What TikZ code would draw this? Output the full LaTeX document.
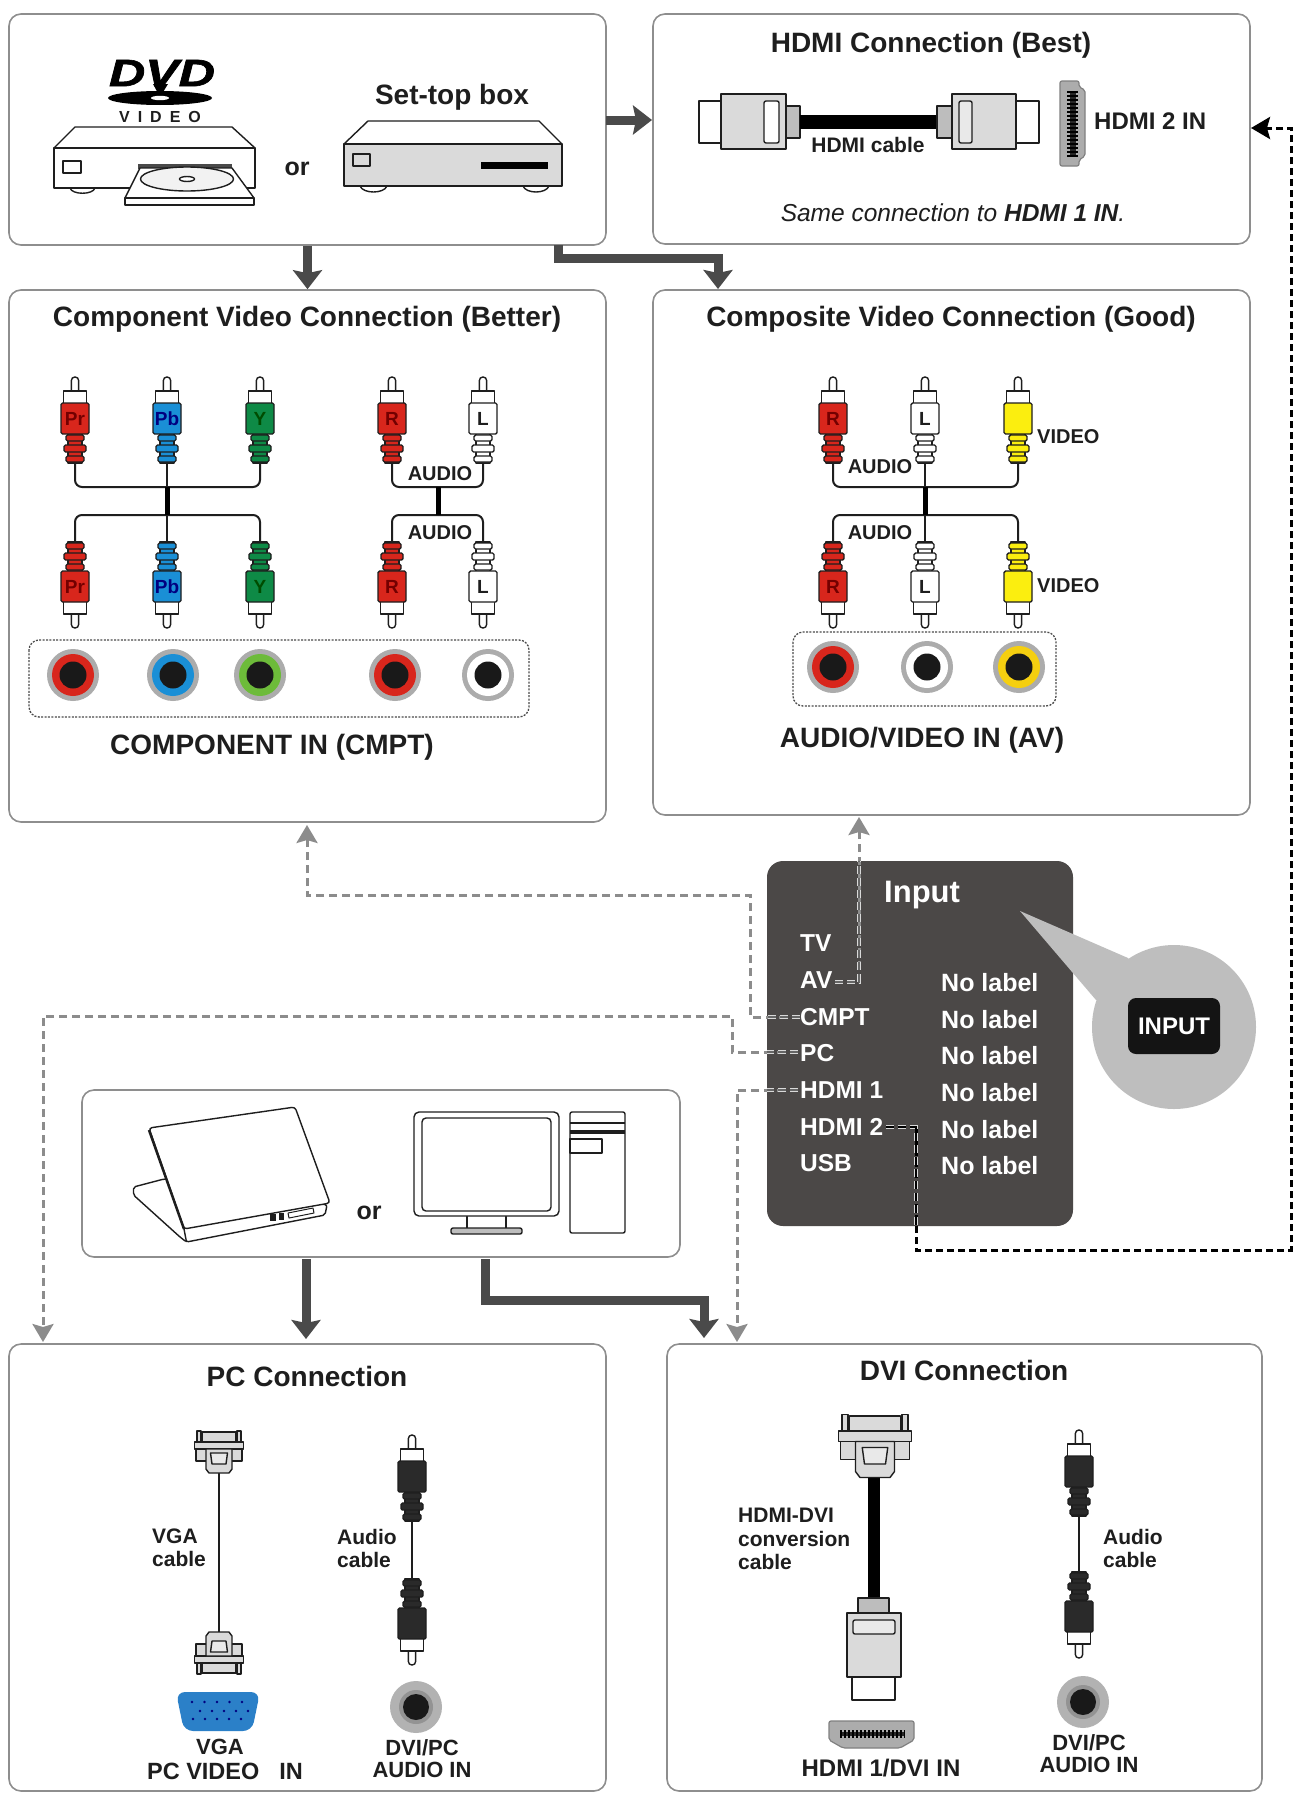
\documentclass[tikz,border=0pt]{standalone}
\usepackage{fontspec}
\usepackage{graphicx}
\setmainfont{Liberation Sans}
\newfontfamily\spacedfont[LetterSpace=50]{Liberation Sans}
\newfontfamily\logofont[BoldItalicFeatures={FakeBold=1.6}]{Liberation Sans}
\usetikzlibrary{arrows.meta}
\definecolor{ink}{HTML}{1E1E1E}
\definecolor{frameline}{HTML}{8E8E8E}
\definecolor{arrowdark}{HTML}{4A4A4A}
\definecolor{panelgrey}{HTML}{4B4847}
\definecolor{calloutgrey}{HTML}{BEBEBE}
\definecolor{dashgrey}{HTML}{8C8C8C}
\definecolor{plugred}{HTML}{D8261C}
\definecolor{plugblue}{HTML}{1A8FD6}
\definecolor{pluggreen}{HTML}{0E8A46}
\definecolor{plugyellow}{HTML}{FBEE0F}
\definecolor{plugblack}{HTML}{2A2A2A}
\definecolor{jackgreen}{HTML}{6DBB3A}
\definecolor{jackyellow}{HTML}{F5CF10}
\definecolor{bodygrey}{HTML}{DADADA}
\definecolor{neckgrey}{HTML}{BDBDBD}
\definecolor{vgablue}{HTML}{2B80C8}
\tikzset{
  x=1pt,y=-1pt,
  panel/.style={draw=frameline,line width=1.6pt,rounded corners=12pt,inner sep=0pt,fill=white},
  lab/.style 2 args={font=\bfseries\fontsize{#1}{#2}\selectfont,inner sep=0pt,text=ink,align=center},
  whitelab/.style 2 args={font=\bfseries\fontsize{#1}{#2}\selectfont,inner sep=0pt,text=white,align=left},
  outline/.style={draw=ink,line width=1.4pt,line join=round},
  cablewire/.style={draw=ink,line width=2pt,rounded corners=7pt},
  flowsolid/.style={draw=arrowdark,line width=9pt,-{Stealth[length=19pt,width=29pt,inset=3pt]}},
  flowgrey/.style={draw=dashgrey,line width=3pt,dash pattern=on 8pt off 5pt,-{Stealth[length=18pt,width=21pt,inset=3pt,fill=dashgrey]}},
  flowblack/.style={draw=black,line width=3pt,dash pattern=on 7pt off 4pt,-{Stealth[length=19pt,width=22pt,inset=3pt,fill=black]}},
  paneldashout/.style={draw=white!85!black,line width=4.6pt,dash pattern=on 8pt off 4pt},
  paneldashin/.style={draw=black!60,line width=1.8pt,dash pattern=on 8pt off 4pt},
  dottedframe/.style={draw=arrowdark,line width=1.3pt,dash pattern=on 2pt off 1.4pt,rounded corners=10pt},
  pinrow/.style={draw=black,line width=11pt,dash pattern=on 2pt off 2pt}
}
% RCA plug: x of the axis, y of the tip, direction (1 = tip on top), body colour, letter colour, letter
\newcommand{\rcaplug}[6]{%
  \begin{scope}[shift={(#1,#2)},yscale=#3]
    \draw[outline,fill=white,rounded corners=3.4pt] (-3.6,15) -- (-3.6,0) -- (3.6,0) -- (3.6,15);
    \draw[outline,fill=white] (-11.5,14) rectangle (11.5,27);
    \draw[outline,fill=#4] (-7,56) rectangle (7,86);
    \draw[outline,fill=#4,rounded corners=1.5pt] (-14,26) rectangle (14,57);
    \draw[outline,fill=#4,rounded corners=1.5pt] (-9,58) rectangle (9,64);
    \draw[outline,fill=#4,rounded corners=1.5pt] (-11,68) rectangle (11,75);
    \draw[outline,fill=#4,rounded corners=1.5pt] (-9,79) rectangle (9,85);
    \node[lab={19}{20},text=#5] at (0,41.5) {#6};
  \end{scope}}
% Round socket: centre, ring colour
\newcommand{\rcajack}[3]{%
  \fill[gray!65] (#1,#2) circle (26);
  \fill[#3] (#1,#2) circle (21);
  \fill[black!90] (#1,#2) circle (13.5);}
\newcommand{\audiojack}[2]{%
  \fill[gray!60] (#1,#2) circle (26);
  \fill[gray!85] (#1,#2) circle (17);
  \fill[black!90] (#1,#2) circle (13);}
% D-sub style plug: axis x, top y, scale, direction
\newcommand{\dsubplug}[4]{%
  \begin{scope}[shift={(#1,#2)},xscale=#3,yscale=#3*#4]
    \draw[outline,fill=bodygrey] (-22,-1) rectangle (-18,11);
    \draw[outline,fill=bodygrey] (18,-1) rectangle (22,11);
    \draw[outline,fill=bodygrey] (-17,0) rectangle (17,10);
    \draw[outline,fill=bodygrey] (-23,17) rectangle (23,29);
    \draw[outline,fill=bodygrey] (-24.5,10) rectangle (24.5,17);
    \draw[outline,fill=bodygrey] (-13,17) -- (13,17) -- (13,37) -- (10,41) -- (-10,41) -- (-13,37) -- cycle;
    \draw[outline,fill=bodygrey!60] (-8.5,21) -- (8.5,21) -- (7,32) -- (-7,32) -- cycle;
  \end{scope}}
\begin{document}
\begin{tikzpicture}
\useasboundingbox[fill=white] (0,0) rectangle (1298,1793);

% Frames
\node[panel,minimum width=597pt,minimum height=231pt] (src) at (307.5,129.5) {};
\node[panel,minimum width=597pt,minimum height=230pt] (hdmi) at (951.5,129) {};
\node[panel,minimum width=597pt,minimum height=532pt] (comp) at (307.5,556) {};
\node[panel,minimum width=597pt,minimum height=525pt] (cvbs) at (951.5,552.5) {};
\node[panel,minimum width=598pt,minimum height=167pt] (pcsrc) at (381,1173.5) {};
\node[panel,minimum width=597pt,minimum height=447pt] (pcbox) at (307.5,1567.5) {};
\node[panel,minimum width=595pt,minimum height=447pt] (dvibox) at (964.5,1567.5) {};
\node[draw=none,fill=panelgrey,rounded corners=16pt,inner sep=0pt,minimum width=306pt,minimum height=365pt] (inputpanel) at (920,1043.5) {};

% Remote-style callout
\fill[calloutgrey] (1020,911) -- (1128,958) -- (1174,1027) -- (1096,1000) -- cycle;
\fill[calloutgrey] (1174,1027) circle (82);
\node[fill=black!92,rounded corners=8pt,minimum width=92pt,minimum height=56pt,inner sep=0pt,text=white,font=\bfseries\fontsize{24}{26}\selectfont] (inputkey) at (1174,1026) {INPUT};

% Solid signal arrows
\coordinate (srcR) at (606,120);
\coordinate (hdmiL) at (652,120);
\coordinate (srcB) at (558,245);
\coordinate (cvbsT) at (718,289);
\coordinate (pcsrcL) at (306,1259);
\coordinate (pcT) at (306,1339);
\coordinate (pcsrcB) at (485,1259);
\coordinate (dviT) at (704,1338);
\draw[flowsolid] (srcR) -- (hdmiL);
\draw[flowsolid] (src.south) -- (comp.north);
\draw[flowsolid] (srcB) -- (558,258) -- (718,258) -- (cvbsT);
\draw[flowsolid] (pcsrcL) -- (pcT);
\draw[flowsolid] (pcsrcB) -- (485,1300) -- (704,1300) -- (dviT);

% Menu connectors leaving the input panel
\coordinate (avOut) at (835,982);
\coordinate (avTurn) at (859,982);
\coordinate (avTop) at (859,861);
\coordinate (cvbsB) at (859,817);
\coordinate (cmptOut) at (800,1017);
\coordinate (cmptTurn) at (750,1017);
\coordinate (cmptUp) at (750,895);
\coordinate (compB) at (307,825);
\coordinate (pcOut) at (798,1052);
\coordinate (pcTurn) at (732,1052);
\coordinate (pcUp) at (732,1016);
\coordinate (pcBoxT) at (43,1342);
\coordinate (hdmiOneOut) at (798,1090);
\coordinate (hdmiOneTurn) at (737,1090);
\coordinate (dviBoxT) at (737,1342);
\coordinate (hdmiTwoOut) at (886,1127);
\coordinate (hdmiTwoTurn) at (916,1127);
\coordinate (hdmiTwoLow) at (916,1250);
\coordinate (rightLow) at (1291,1250);
\coordinate (rightHigh) at (1291,128);
\coordinate (hdmiR) at (1251,128);
\draw[flowgrey] (avTurn) -- (avTop) -- (cvbsB);
\draw[flowgrey] (cmptOut) -- (cmptTurn) -- (cmptUp) -- (compB |- cmptUp) -- (compB);
\draw[flowgrey] (pcOut) -- (pcTurn) -- (pcUp) -- (pcBoxT |- pcUp) -- (pcBoxT);
\draw[flowgrey] (hdmiOneOut) -- (hdmiOneTurn) -- (dviBoxT);
\draw[flowblack] (hdmiTwoTurn) -- (hdmiTwoLow) -- (rightLow) -- (rightHigh) -- (hdmiR);
% Inside the dark panel the dashes get a light outline
\draw[paneldashout] (avOut) -- (avTurn) -- (avTop);
\draw[paneldashin] (avOut) -- (avTurn) -- (avTop);
\draw[paneldashout] (cmptOut) -- (inputpanel.west |- cmptOut);
\draw[paneldashin] (cmptOut) -- (inputpanel.west |- cmptOut);
\draw[paneldashout] (pcOut) -- (inputpanel.west |- pcOut);
\draw[paneldashin] (pcOut) -- (inputpanel.west |- pcOut);
\draw[paneldashout] (hdmiOneOut) -- (inputpanel.west |- hdmiOneOut);
\draw[paneldashin] (hdmiOneOut) -- (inputpanel.west |- hdmiOneOut);
\draw[paneldashout] (hdmiTwoOut) -- (hdmiTwoTurn) -- (916,1226);
\draw[draw=black,line width=1.8pt,dash pattern=on 8pt off 4pt] (hdmiTwoOut) -- (hdmiTwoTurn) -- (916,1226);

% Input menu
\node[whitelab={31}{33},anchor=west] (menuTitle) at (884,895) {Input};
\foreach \nm/\ty/\tx in {mTV/943/TV,mAV/980/AV,mCMPT/1017/CMPT,mPC/1053/PC,mHa/1090/HDMI 1,mHb/1127/HDMI 2,mUSB/1163/USB}
  \node[whitelab={24.5}{26},anchor=west] (\nm) at (800,\ty) {\tx};
\foreach \nm/\ty in {na/983,nb/1020,nc/1056,nd/1093,ne/1130,nf/1166}
  \node[whitelab={25}{26},anchor=west] (\nm) at (941,\ty) {No label};

% DVD player
\node[inner sep=0pt,font=\logofont\bfseries\itshape\fontsize{38}{38}\selectfont,text=black] (dvdlogo) at (162,73) {\scalebox{1.32}[1]{DVD}};
\fill[black] (153,84) -- (168,84) -- (160,97) -- cycle;
\fill[black] (160,98) ellipse (52 and 7);
\fill[white] (160,98) ellipse (9 and 2.2);
\node[inner sep=0pt,font=\spacedfont\bfseries\fontsize{16}{16}\selectfont,text=ink] (videoword) at (160,117) {VIDEO};
\draw[outline,fill=white] (70,188) .. controls (72,195) and (93,195) .. (95,188);
\draw[outline,fill=white] (54,148) -- (75,127) -- (232,127) -- (255,148) -- cycle;
\draw[outline,fill=white] (54,148) rectangle (255,188);
\draw[outline] (63,161) rectangle (81,173);
\fill[arrowdark] (138,164) rectangle (232,169);
\draw[outline,fill=white] (140,168) -- (232,168) -- (254,198) -- (125,198) -- cycle;
\draw[outline,fill=white] (125,198) rectangle (254,205);
\draw[outline,fill=bodygrey!35] (187,179) ellipse (46.5 and 12);
\draw[outline,fill=white] (187,179) ellipse (7.5 and 2.5);
\node[lab={25}{25}] (orA) at (297,169) {or};

% Set-top box
\node[lab={28}{30}] (stbText) at (452,97.5) {Set-top box};
\draw[outline,fill=white] (360,186) .. controls (363,194) and (384,194) .. (387,186);
\draw[outline,fill=white] (523,186) .. controls (526,194) and (546,194) .. (549,186);
\draw[outline,fill=white] (344,144) -- (368,121) -- (539,121) -- (562,144) -- cycle;
\draw[outline,fill=bodygrey] (344,144) rectangle (562,186);
\draw[outline] (353,154) rectangle (370,166);
\fill[black] (481,162) rectangle (548,169);

% HDMI block
\node[lab={28}{30}] (hdmiTitle) at (931,45.5) {HDMI Connection (Best)};
\draw[outline,fill=white] (699,101) rectangle (721,143);
\draw[outline,fill=neckgrey] (786,106) rectangle (800,138);
\draw[outline,fill=bodygrey] (721,94) rectangle (786,149);
\draw[outline,fill=white,rounded corners=2pt] (764,101) rectangle (779,143);
\fill[black] (800,115) rectangle (937,129);
\draw[outline,fill=neckgrey] (937,106) rectangle (952,138);
\draw[outline,fill=white] (1016,101) rectangle (1039,143);
\draw[outline,fill=bodygrey] (952,94) rectangle (1016,149);
\draw[outline,fill=bodygrey!60,rounded corners=2pt] (959,101) rectangle (972,143);
\draw[draw=gray,line width=1.2pt,fill=gray!65,rounded corners=2pt] (1060,81) -- (1079,81) -- (1079,87) -- (1085,90) -- (1085,156) -- (1079,160) -- (1079,166) -- (1060,166) -- cycle;
\fill[black!85] (1070,91) rectangle (1076,157);
\draw[pinrow] (1072,91) -- (1072,157);
\node[lab={21}{22}] (hdmiCable) at (868,145) {HDMI cable};
\node[lab={24}{26},anchor=west] (hdmiTwo) at (1094,121) {HDMI 2 IN};
\node[inner sep=0pt,text=ink,font=\itshape\fontsize{24.5}{26}\selectfont] (sameConn) at (953,213) {Same connection to \textbf{HDMI 1 IN}.};

% Component block
\node[lab={28}{30}] (compTitle) at (307,319.5) {Component Video Connection (Better)};
\draw[cablewire] (75,463) |- (167,487);
\draw[cablewire] (260,463) |- (167,487);
\draw[cablewire] (75,543) |- (167,515);
\draw[cablewire] (260,543) |- (167,515);
\draw[draw=ink,line width=2pt] (167,463) -- (167,543);
\draw[draw=black,line width=5pt] (167,487) -- (167,515);
\draw[cablewire] (392,463) |- (438,487);
\draw[cablewire] (483,463) |- (438,487);
\draw[cablewire] (392,543) |- (438,515);
\draw[cablewire] (483,543) |- (438,515);
\draw[draw=black,line width=5pt] (438,487) -- (438,515);
\rcaplug{75}{377}{1}{plugred}{red!45!black}{Pr}
\rcaplug{167}{377}{1}{plugblue}{blue!50!black}{Pb}
\rcaplug{260}{377}{1}{pluggreen}{green!30!black}{Y}
\rcaplug{392}{377}{1}{plugred}{red!45!black}{R}
\rcaplug{483}{377}{1}{white}{ink}{L}
\rcaplug{75}{628}{-1}{plugred}{red!45!black}{Pr}
\rcaplug{167}{628}{-1}{plugblue}{blue!50!black}{Pb}
\rcaplug{260}{628}{-1}{pluggreen}{green!30!black}{Y}
\rcaplug{392}{628}{-1}{plugred}{red!45!black}{R}
\rcaplug{483}{628}{-1}{white}{ink}{L}
\node[lab={20}{22}] (audA) at (440,474) {AUDIO};
\node[lab={20}{22}] (audB) at (440,533) {AUDIO};
\draw[dottedframe] (29,640) rectangle (529,717);
\rcajack{73}{675}{plugred}
\rcajack{173}{675}{plugblue}
\rcajack{260}{675}{jackgreen}
\rcajack{395}{675}{plugred}
\rcajack{488}{675}{white}
\node[lab={28}{30}] (compIn) at (272,747) {COMPONENT IN (CMPT)};

% Composite block
\node[lab={28}{30}] (cvbsTitle) at (951,319.5) {Composite Video Connection (Good)};
\draw[cablewire] (833,463) |- (925,487);
\draw[cablewire] (1018,463) |- (925,487);
\draw[cablewire] (833,543) |- (925,515);
\draw[cablewire] (1018,543) |- (925,515);
\draw[draw=ink,line width=2pt] (925,463) -- (925,543);
\draw[draw=black,line width=5pt] (925,487) -- (925,515);
\rcaplug{833}{377}{1}{plugred}{red!45!black}{R}
\rcaplug{925}{377}{1}{white}{ink}{L}
\rcaplug{1018}{377}{1}{plugyellow}{ink}{}
\rcaplug{833}{628}{-1}{plugred}{red!45!black}{R}
\rcaplug{925}{628}{-1}{white}{ink}{L}
\rcaplug{1018}{628}{-1}{plugyellow}{ink}{}
\node[lab={20}{22}] (audC) at (880,467) {AUDIO};
\node[lab={20}{22}] (audD) at (880,533) {AUDIO};
\node[lab={20}{22},anchor=west] (vidA) at (1037,437) {VIDEO};
\node[lab={20}{22},anchor=west] (vidB) at (1037,586) {VIDEO};
\draw[dottedframe] (793,632) rectangle (1056,706);
\rcajack{833}{667}{plugred}
\rcajack{927}{667}{white}
\rcajack{1019}{667}{jackyellow}
\node[lab={28}{30}] (avIn) at (922,740) {AUDIO/VIDEO IN (AV)};

% Laptop
\draw[outline,fill=white,rounded corners=2pt] (133.5,1187) -- (164,1179) -- (200,1179) -- (327,1205) -- (325,1215) -- (186.5,1242) -- (180,1237) -- (133.5,1195) -- cycle;
\draw[outline] (184,1229) -- (186.5,1242);
\draw[outline,fill=white,rounded corners=3pt] (149,1128) -- (295,1107) -- (330,1203) -- (184,1229) -- cycle;
\draw[draw=ink,line width=2.5pt] (149,1130) -- (184,1229);
\fill[ink] (270,1214) rectangle (276,1221);
\fill[ink] (279,1213) rectangle (284,1220);
\draw[outline,line width=1pt] (288,1213) -- (313,1208) -- (314,1213) -- (289,1218) -- cycle;
\node[lab={25}{25}] (orB) at (369,1213) {or};

% Monitor and tower
\draw[outline] (467,1216) -- (467,1228);
\draw[outline] (506,1216) -- (506,1228);
\draw[outline,fill=neckgrey,rounded corners=2pt] (451,1228) rectangle (522,1234);
\draw[outline,fill=white,rounded corners=5pt] (414,1112) rectangle (559,1216);
\draw[outline,rounded corners=4pt] (422,1118) rectangle (551,1211);
\draw[outline,fill=white,rounded corners=2pt] (570,1112) rectangle (625,1233);
\draw[outline] (570,1123) -- (625,1123);
\fill[ink] (570,1130) rectangle (625,1134);
\draw[outline] (570,1139) rectangle (602,1153);

% PC block
\node[lab={28}{30}] (pcTitle) at (307,1376) {PC Connection};
\draw[draw=ink,line width=2pt] (219,1473) -- (219,1632);
\dsubplug{219}{1432}{1}{1}
\dsubplug{219}{1673}{1}{-1}
\node[lab={21}{23},align=left,anchor=west] (vgaCable) at (152,1548) {VGA\\cable};
\draw[draw=ink,line width=1.4pt] (412,1521) -- (412,1579);
\rcaplug{412}{1435}{1}{plugblack}{ink}{}
\rcaplug{412}{1665}{-1}{plugblack}{ink}{}
\node[lab={21}{23},align=left,anchor=west] (audCableA) at (337,1548) {Audio\\cable};
\fill[vgablue,rounded corners=9pt] (176,1692) -- (260,1692) -- (252,1731) -- (184,1731) -- cycle;
\foreach \px in {192,204.5,217,229.5,242}
  \fill[blue!50!black] (\px,1702) circle (1.3);
\foreach \px in {200,212,224,236,248}
  \fill[blue!50!black] (\px,1711) circle (1.3);
\foreach \px in {193,205,217,229,241}
  \fill[blue!50!black] (\px,1719) circle (1.3);
\audiojack{416}{1707}
\node[lab={22}{24}] (vgaWord) at (220,1747) {VGA};
\node[lab={23.5}{24}] (pcVideoIn) at (225,1771) {PC VIDEO\hspace{0.85em}IN};
\node[lab={22}{22}] (dviPcA) at (422,1759) {DVI/PC\\AUDIO IN};

% DVI block
\node[lab={28}{30}] (dviTitle) at (964,1370) {DVI Connection};
\fill[black] (868,1478) rectangle (880,1600);
\dsubplug{875}{1416}{1.5}{1}
\draw[outline,fill=neckgrey] (858,1598) rectangle (889,1613);
\draw[outline,fill=white] (852,1677) rectangle (895,1700);
\draw[outline,fill=bodygrey] (847,1613) rectangle (901,1677);
\draw[outline,fill=bodygrey!60,rounded corners=2pt] (853,1620) rectangle (895,1634);
\draw[draw=gray,line width=1.2pt,fill=gray!65,rounded corners=2pt] (829,1721) -- (914,1721) -- (914,1740) -- (900,1748) -- (843,1748) -- (829,1740) -- cycle;
\fill[black!85] (840,1731.5) rectangle (905,1736);
\draw[pinrow,line width=8pt] (840,1733.5) -- (905,1733.5);
\node[lab={21}{23.5},align=left,anchor=west] (hdmiDvi) at (738,1539) {HDMI-DVI\\conversion\\cable};
\node[lab={24}{26}] (hdmiDviIn) at (881,1768) {HDMI 1/DVI IN};
\draw[draw=ink,line width=1.8pt] (1079,1515) -- (1079,1573);
\rcaplug{1079}{1430}{1}{plugblack}{ink}{}
\rcaplug{1079}{1658}{-1}{plugblack}{ink}{}
\node[lab={21}{23},align=left,anchor=west] (audCableB) at (1103,1548) {Audio\\cable};
\audiojack{1083}{1702}
\node[lab={22}{22}] (dviPcB) at (1089,1754) {DVI/PC\\AUDIO IN};
\end{tikzpicture}
\end{document}
